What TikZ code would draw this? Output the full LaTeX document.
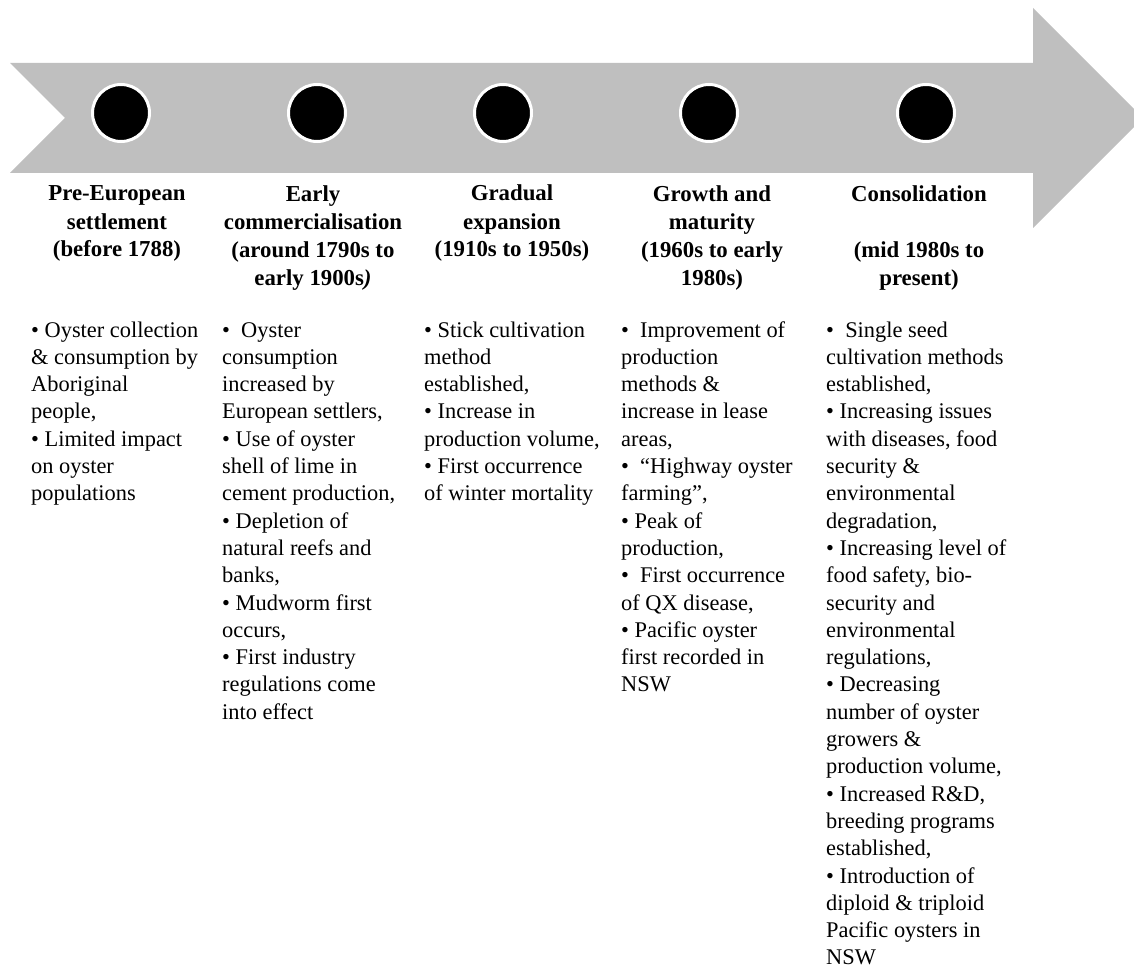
\documentclass[tikz,border=0pt]{standalone}
\usepackage{fontspec}
\setmainfont{Liberation Serif}
\definecolor{arrowgray}{HTML}{BFBFBF}

\begin{document}
\begin{tikzpicture}[x=1pt, y=-1pt,
    stage/.style={circle, fill=black, draw=white, line width=3pt, minimum size=57pt, inner sep=0pt},
    heading/.style={anchor=base, align=center, inner sep=0pt, text=black, font=\fontsize{22.8}{28}\selectfont\bfseries},
    details/.style={anchor=base west, align=left, inner sep=0pt, text=black, font=\fontsize{22.4}{27.3}\selectfont}]
    \useasboundingbox (0,0) rectangle (1134,968);

    % Flecha
    \fill[arrowgray] (10,63) -- (1033,63) -- (1033,8) -- (1143,118) -- (1033,228)
        -- (1033,173) -- (10,173) -- (65,118) -- cycle;

    % Puntos
    \node[stage] (dot1) at (121,113) {};
    \node[stage] (dot2) at (317,113) {};
    \node[stage] (dot3) at (503,113) {};
    \node[stage] (dot4) at (709,113) {};
    \node[stage] (dot5) at (926,113) {};

    % Titulos (anclados en la linea de base de la ultima linea)
    \node[heading] (head1) at (117,257) {Pre-European\\settlement\\(before 1788)};
    \node[heading] (head2) at (313,285) {Early\\commercialisation\\(around 1790s to\\early 1900s\textit{)}};
    \node[heading] (head3) at (512,257) {Gradual\\expansion\\(1910s to 1950s)};
    \node[heading] (head4) at (712,285) {Growth and\\maturity\\(1960s to early\\1980s)};
    \node[heading] (head5) at (919,285) {Consolidation\\[28pt](mid 1980s to\\present)};

    % Textos (primera linea en y=337, 27.3 por linea)
    \node[details] (text1) at (31,500.8) {• Oyster collection\\\& consumption by\\Aboriginal\\people,\\• Limited impact\\on oyster\\populations};
    \node[details] (text2) at (222,719.2) {•\ \ Oyster\\consumption\\increased by\\European settlers,\\• Use of oyster\\shell of lime in\\cement production,\\• Depletion of\\natural reefs and\\banks,\\• Mudworm first\\occurs,\\• First industry\\regulations come\\into effect};
    \node[details] (text3) at (424,500.8) {• Stick cultivation\\method\\established,\\• Increase in\\production volume,\\• First occurrence\\of winter mortality};
    \node[details] (text4) at (621,691.9) {•\ \ Improvement of\\production\\methods \&\\increase in lease\\areas,\\•\ \ ``Highway oyster\\farming'',\\• Peak of\\production,\\•\ \ First occurrence\\of QX disease,\\• Pacific oyster\\first recorded in\\NSW};
    \node[details] (text5) at (826,964.9) {•\ \ Single seed\\cultivation methods\\established,\\• Increasing issues\\with diseases, food\\security \&\\environmental\\degradation,\\• Increasing level of\\food safety, bio-\\security and\\environmental\\regulations,\\• Decreasing\\number of oyster\\growers \&\\production volume,\\• Increased R\&D,\\breeding programs\\established,\\• Introduction of\\diploid \& triploid\\Pacific oysters in\\NSW};
\end{tikzpicture}
\end{document}
